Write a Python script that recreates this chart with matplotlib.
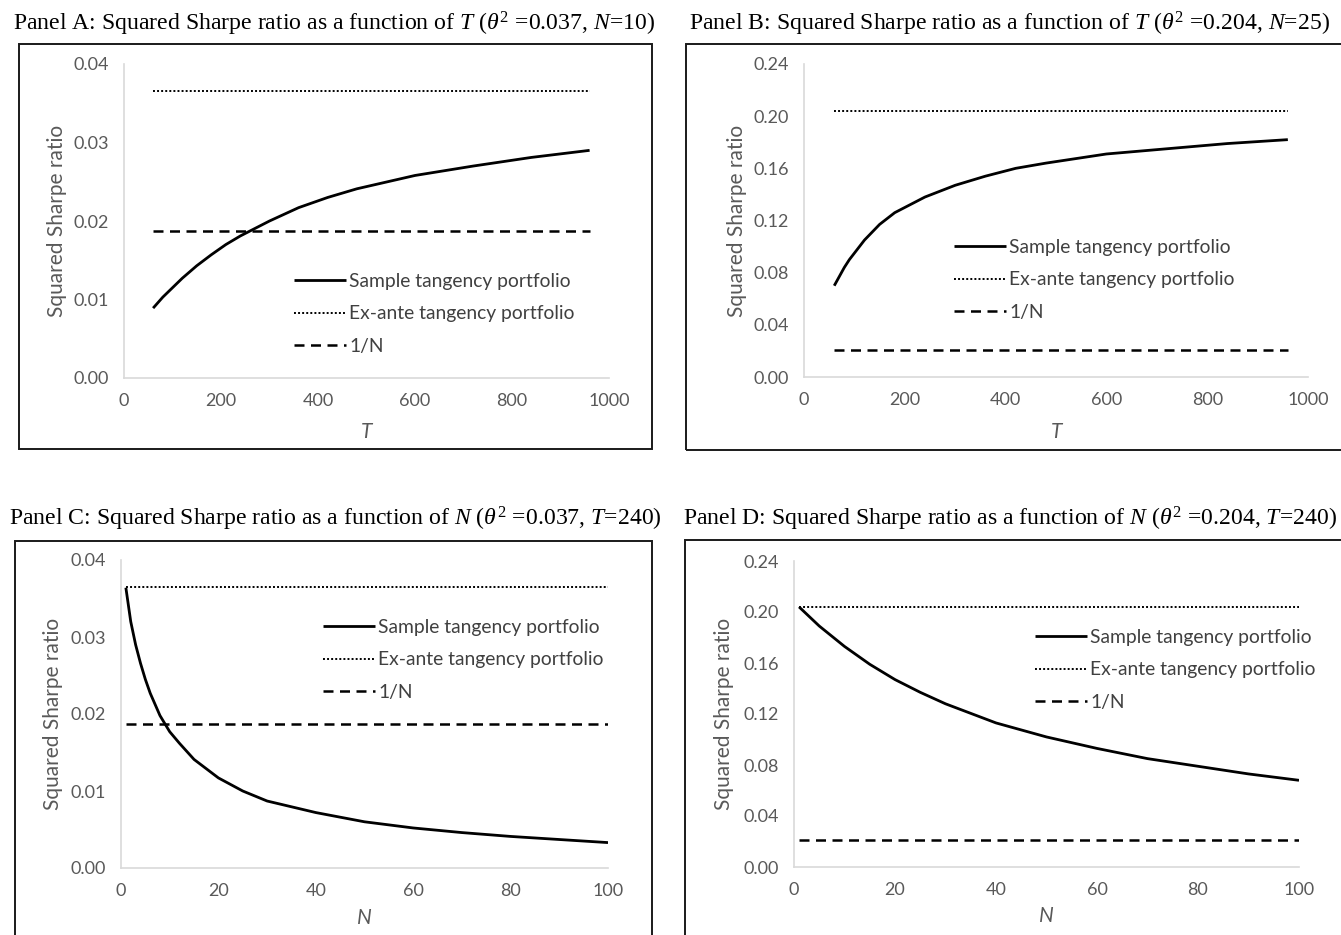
import matplotlib
matplotlib.use("Agg")
import matplotlib.pyplot as plt
from matplotlib.patches import Rectangle

# ---------------- data ----------------
T_grid = [60, 70, 80, 90, 120, 150, 180, 210, 240, 300, 360, 420, 480, 600, 720, 840, 960]
sample_A = [0.0089, 0.0096, 0.0103, 0.0109, 0.0127, 0.0143, 0.0157, 0.0170, 0.0181,
            0.0200, 0.0217, 0.0230, 0.0241, 0.0258, 0.0270, 0.0281, 0.0290]
sample_B = [0.070, 0.077, 0.084, 0.090, 0.105, 0.117, 0.126, 0.132, 0.138,
            0.147, 0.154, 0.160, 0.164, 0.171, 0.175, 0.179, 0.182]

N_grid_C = [1, 2, 3, 4, 5, 6, 8, 10, 12, 15, 20, 25, 30, 40, 50, 60, 70, 80, 90, 100]
sample_C = [0.0364, 0.0320, 0.0290, 0.0266, 0.0245, 0.0227, 0.0198, 0.0177, 0.0162,
            0.0141, 0.0117, 0.0100, 0.0087, 0.0072, 0.0060, 0.0052, 0.0046, 0.0041,
            0.0037, 0.0033]
N_grid_D = [1, 5, 10, 15, 20, 25, 30, 40, 50, 60, 70, 80, 90, 100]
sample_D = [0.204, 0.189, 0.173, 0.159, 0.147, 0.137, 0.128, 0.113, 0.102,
            0.093, 0.085, 0.079, 0.073, 0.068]

exante_low, exante_high = 0.0365, 0.204
equal_A, equal_B, equal_C, equal_D = 0.0187, 0.021, 0.0187, 0.021

series_names = ["Sample tangency portfolio", "Ex-ante tangency portfolio", "1/N"]

titles = [
    r"Panel A: Squared Sharpe ratio as a function of $T$ ($\theta^2$ =0.037, $N$=10)",
    r"Panel B: Squared Sharpe ratio as a function of $T$ ($\theta^2$ =0.204, $N$=25)",
    r"Panel C: Squared Sharpe ratio as a function of $N$ ($\theta^2$ =0.037, $T$=240)",
    r"Panel D: Squared Sharpe ratio as a function of $N$ ($\theta^2$ =0.204, $T$=240)",
]
yticks_low = [0.00, 0.01, 0.02, 0.03, 0.04]
yticks_high = [0.00, 0.04, 0.08, 0.12, 0.16, 0.20, 0.24]
xticks_T = [0, 200, 400, 600, 800, 1000]
xticks_N = [0, 20, 40, 60, 80, 100]

# ---------------- style ----------------
plt.rcParams["mathtext.fontset"] = "custom"
plt.rcParams["mathtext.rm"] = "Liberation Serif"
plt.rcParams["mathtext.it"] = "Liberation Serif:italic"
plt.rcParams["mathtext.bf"] = "Liberation Serif:bold"

W, H = 1341, 935
fig = plt.figure(figsize=(W / 100, H / 100), dpi=100)
fig.patch.set_facecolor("white")

GRAY = "#595959"
AXC = "#D9D9D9"
LEG = "#404040"
SANS = "Lato"


def fbox(x0, y0, x1, y1):
    return [x0 / W, 1 - y1 / H, (x1 - x0) / W, (y1 - y0) / H]


# panel frames
for (x0, y0, x1, y1) in [(19, 44, 652, 449), (686, 44, 1345, 450),
                         (15, 541, 652, 945), (685, 540, 1345, 945)]:
    fig.add_artist(Rectangle((x0 / W, 1 - y1 / H), (x1 - x0) / W, (y1 - y0) / H,
                             transform=fig.transFigure, fill=False,
                             ec="#1a1a1a", lw=1.4))

# titles
for (cx, cy), t in zip([(334, 24), (1009, 24), (335, 519), (1010, 519)], titles):
    fig.text(cx / W, 1 - cy / H, t, ha="center", va="center",
             family="Liberation Serif", fontsize=17.1, color="black")

panels = [
    dict(rect=fbox(124, 64, 609, 378), x=T_grid, y=sample_A, ex=exante_low,
         eq=equal_A, xt=xticks_T, yt=yticks_low, xl="T", fmt="{:.2f}",
         xlim=(0, 1000), ylim=(0, 0.04), leg=(294, 281), ylab=(57, 221), xlab=(367, 432)),
    dict(rect=fbox(804, 64, 1308, 377), x=T_grid, y=sample_B, ex=exante_high,
         eq=equal_B, xt=xticks_T, yt=yticks_high, xl="T", fmt="{:.2f}",
         xlim=(0, 1000), ylim=(0, 0.24), leg=(954, 247), ylab=(737, 221), xlab=(1057, 432)),
    dict(rect=fbox(121, 560, 608, 868), x=N_grid_C, y=sample_C, ex=exante_low,
         eq=equal_C, xt=xticks_N, yt=yticks_low, xl="N", fmt="{:.2f}",
         xlim=(0, 100), ylim=(0, 0.04), leg=(323, 627), ylab=(53, 714), xlab=(364, 918)),
    dict(rect=fbox(794, 561, 1299, 867), x=N_grid_D, y=sample_D, ex=exante_high,
         eq=equal_D, xt=xticks_N, yt=yticks_high, xl="N", fmt="{:.2f}",
         xlim=(0, 100), ylim=(0, 0.24), leg=(1035, 637), ylab=(724, 714), xlab=(1046, 916)),
]

for p in panels:
    ax = fig.add_axes(p["rect"])
    x = p["x"]
    ax.plot(x, p["y"], color="black", lw=2.0, solid_capstyle="butt",
            solid_joinstyle="round", label=series_names[0])
    ax.plot([x[0], x[-1]], [p["ex"], p["ex"]], color="black", lw=1.4,
            linestyle=(0, (1, 1.1)), label=series_names[1])
    ax.plot([x[0], x[-1]], [p["eq"], p["eq"]], color="black", lw=1.8,
            linestyle=(0, (4.0, 2.6)), label=series_names[2])
    ax.set_xlim(*p["xlim"])
    ax.set_ylim(*p["ylim"])
    ax.set_xticks(p["xt"])
    ax.set_xticklabels([str(v) for v in p["xt"]])
    ax.set_yticks(p["yt"])
    ax.set_yticklabels([p["fmt"].format(v) for v in p["yt"]])
    for s in ["top", "right"]:
        ax.spines[s].set_visible(False)
    for s in ["left", "bottom"]:
        ax.spines[s].set_color(AXC)
        ax.spines[s].set_linewidth(1.2)
    ax.tick_params(axis="both", length=0, colors=GRAY, labelsize=13)
    ax.tick_params(axis="y", pad=11)
    ax.tick_params(axis="x", pad=11)
    for lab in ax.get_xticklabels() + ax.get_yticklabels():
        lab.set_family(SANS)
    ax.patch.set_alpha(0)
    # axis labels placed in figure pixels
    fig.text(p["ylab"][0] / W, 1 - p["ylab"][1] / H, "Squared Sharpe ratio",
             rotation=90, ha="center", va="center", family=SANS,
             fontsize=15, color=GRAY)
    fig.text(p["xlab"][0] / W, 1 - p["xlab"][1] / H, p["xl"], ha="center",
             va="center", family=SANS, style="italic", fontsize=15, color=GRAY)
    # legend
    lx, ly = p["leg"]
    leg = ax.legend(loc="center left",
                    bbox_to_anchor=(lx / W, 1 - (ly + 33) / H),
                    bbox_transform=fig.transFigure, frameon=False,
                    prop=dict(family=SANS, size=13.9), handlelength=2.7,
                    handletextpad=0.15, labelspacing=0.79, borderpad=0,
                    borderaxespad=0)
    for t in leg.get_texts():
        t.set_color(LEG)

fig.savefig("out.png", dpi=100, facecolor="white")
